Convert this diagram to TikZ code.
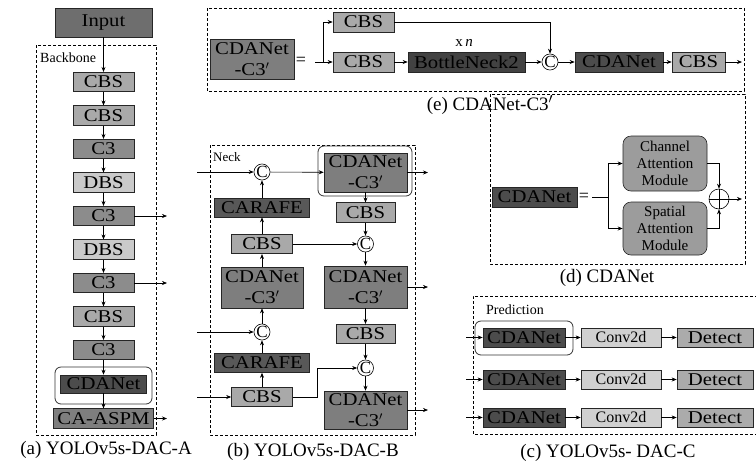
\documentclass[tikz,border=0pt]{standalone}
\usepackage{fontspec}
\setmainfont{Liberation Serif}
\newfontfamily\boxfont[FakeStretch=1.15]{Liberation Serif}
\usetikzlibrary{arrows.meta,calc}
\definecolor{cInput}{HTML}{6E6E6E}
\definecolor{cCBS}{HTML}{A9A9A9}
\definecolor{cCthree}{HTML}{8C8C8C}
\definecolor{cDBS}{HTML}{CACACA}
\definecolor{cDark}{HTML}{4C4C4C}
\definecolor{cCARAFE}{HTML}{585858}
\definecolor{cMid}{HTML}{7E7E7E}
\definecolor{cBN}{HTML}{424242}
\definecolor{cLight}{HTML}{D0D0D0}
\definecolor{cDetect}{HTML}{ABABAB}
\definecolor{cAtt}{HTML}{9C9C9C}
\begin{document}
\begin{tikzpicture}[x=1pt,y=-1pt,
  bx/.style={draw=black!85, line width=0.6pt, inner sep=0pt, align=center, text=black, font=\boxfont\fontsize{18}{21}\selectfont},
  inputbox/.style={bx, fill=cInput, minimum width=97pt, minimum height=29pt},
  cbsbox/.style={bx, fill=cCBS, minimum width=61pt, minimum height=19.5pt},
  cthreebox/.style={bx, fill=cCthree, minimum width=61pt, minimum height=19.5pt},
  dbsbox/.style={bx, fill=cDBS, minimum width=61pt, minimum height=19.5pt},
  darkbox/.style={bx, fill=cDark, minimum width=82pt, minimum height=19pt},
  midbox/.style={bx, fill=cMid},
  carafebox/.style={bx, fill=cCARAFE, minimum width=95pt, minimum height=19pt},
  cdcbox/.style={bx, fill=cMid, minimum width=83pt, minimum height=40pt},
  bnbox/.style={bx, fill=cBN, minimum width=117pt, minimum height=20pt},
  convbox/.style={bx, fill=cLight, minimum width=80pt, minimum height=19pt, font=\fontsize{16}{17}\selectfont},
  detbox/.style={bx, fill=cDetect, minimum width=76pt, minimum height=19pt},
  attbox/.style={draw=black!85, line width=0.6pt, fill=cAtt, rounded corners=8pt, inner sep=0pt, align=center, text=black, minimum width=84pt, minimum height=55pt, font=\fontsize{15}{17}\selectfont},
  arr/.style={-{Stealth[length=5pt,width=4pt]}, line width=0.6pt},
  ln/.style={line width=0.6pt},
  dbox/.style={dashed, dash pattern=on 3pt off 2pt, line width=0.6pt},
  hl/.style={draw=black!80, line width=0.8pt, rounded corners=6pt},
  cc/.style={circle, draw, fill=white, line width=0.6pt, minimum size=16pt, inner sep=0pt, font=\fontsize{17}{17}\selectfont},
  oplus/.style={circle, draw, fill=white, line width=0.6pt, minimum size=20pt, inner sep=0pt,
    path picture={\draw[line width=0.6pt] (path picture bounding box.north) -- (path picture bounding box.south) (path picture bounding box.west) -- (path picture bounding box.east);}},
  lab/.style={font=\fontsize{14}{14}\selectfont, anchor=west, inner sep=0pt},
  eqtxt/.style={font=\fontsize{18}{18}\selectfont, inner sep=0pt},
  captxt/.style={font=\fontsize{19}{19}\selectfont, inner sep=0pt}
]
\useasboundingbox (0,0) rectangle (756,467);

% ---------------- (a) Backbone ----------------
\draw[dbox] (36,45) rectangle (156,435);
\node[lab] (bbl) at (40,58) {Backbone};
\node[inputbox] (inp) at (103.5,22.5) {Input};
\node[cbsbox] (a1) at (103.5,82) {CBS};
\node[cbsbox] (a2) at (103.5,115.5) {CBS};
\node[cthreebox] (a3) at (103.5,149) {C3};
\node[dbsbox] (a4) at (103.5,182.5) {DBS};
\node[cthreebox] (a5) at (103.5,216) {C3};
\node[dbsbox] (a6) at (103.5,249.5) {DBS};
\node[cthreebox] (a7) at (103.5,283) {C3};
\node[cbsbox] (a8) at (103.5,316.5) {CBS};
\node[cthreebox] (a9) at (103.5,350) {C3};
\draw[hl] (55,367) rectangle (152,404);
\node[darkbox, minimum width=86pt, minimum height=18pt] (a10) at (103.5,384) {CDANet};
\node[midbox, minimum width=100pt, minimum height=19.5pt] (a11) at (103.5,418.5) {CA-ASPM};
\draw[arr] (inp) -- (a1);
\draw[arr] (a1) -- (a2);
\draw[arr] (a2) -- (a3);
\draw[arr] (a3) -- (a4);
\draw[arr] (a4) -- (a5);
\draw[arr] (a5) -- (a6);
\draw[arr] (a6) -- (a7);
\draw[arr] (a7) -- (a8);
\draw[arr] (a8) -- (a9);
\draw[arr] (a9) -- (a10);
\draw[arr] (a10) -- (a11);
\coordinate (ao1) at (167,216);
\coordinate (ao2) at (167,283);
\coordinate (ao3) at (167,418.5);
\draw[arr] (a5.east) -- (ao1);
\draw[arr] (a7.east) -- (ao2);
\draw[arr] (a11.east) -- (ao3);
\node[captxt] (capa) at (106,450) {(a) YOLOv5s-DAC-A};

% ---------------- (b) Neck ----------------
\draw[dbox] (210,145) rectangle (415,435);
\node[lab, font=\fontsize{13}{13}\selectfont] (neck) at (213,157) {Neck};
\node[cc] (bc1) at (262,172) {C};
\draw[hl] (318,146) rectangle (412,196);
\node[cdcbox, minimum height=39pt] (bR1) at (365.5,172.5) {CDANet\\-C3$'$};
\node[carafebox] (bL1) at (262,207.5) {CARAFE};
\node[cbsbox] (bL2) at (262,244) {CBS};
\node[cdcbox, minimum width=82pt, minimum height=41pt] (bL3) at (262,287.5) {CDANet\\-C3$'$};
\node[cc] (bc2) at (262,332) {C};
\node[carafebox] (bL4) at (262,363) {CARAFE};
\node[cbsbox] (bL5) at (262,397) {CBS};
\node[cbsbox, minimum width=59pt] (bR2) at (365.5,212.5) {CBS};
\node[cc] (bc3) at (365.5,244) {C};
\node[cdcbox, minimum height=42pt] (bR3) at (365.5,287) {CDANet\\-C3$'$};
\node[cbsbox, minimum width=59pt] (bR4) at (365.5,334) {CBS};
\node[cc] (bc4) at (365.5,368) {C};
\node[cdcbox, minimum height=38pt] (bR5) at (365.5,410) {CDANet\\-C3$'$};
\coordinate (bi1) at (197,172);
\coordinate (bi2) at (197,332);
\coordinate (bi3) at (197,397);
\coordinate (bo1) at (428,172.5);
\coordinate (bo2) at (428,287);
\coordinate (bo3) at (428,410);
\coordinate (bk) at (317,397);
\draw[arr] (bi1) -- (bc1);
\draw[arr] (bi2) -- (bc2);
\draw[arr] (bi3) -- (bL5);
\draw[arr] (bc1) -- (bR1);
\draw[arr] (bR1) -- (bo1);
\draw[arr] (bR3) -- (bo2);
\draw[arr] (bR5) -- (bo3);
\draw[arr] (bL1) -- (bc1);
\draw[arr] (bL2) -- (bL1);
\draw[arr] (bL3) -- (bL2);
\draw[arr] (bc2) -- (bL3);
\draw[arr] (bL4) -- (bc2);
\draw[arr] (bL5) -- (bL4);
\draw[arr] (bR1) -- (bR2);
\draw[arr] (bR2) -- (bc3);
\draw[arr] (bL2) -- (bc3);
\draw[arr] (bc3) -- (bR3);
\draw[arr] (bR3) -- (bR4);
\draw[arr] (bR4) -- (bc4);
\draw[arr] (bc4) -- (bR5);
\draw[arr] (bL5.east) -- (bk) |- (bc4.west);
\node[captxt] (capb) at (313,452) {(b) YOLOv5s-DAC-B};

% ---------------- (e) CDANet-C3' ----------------
\draw[dbox] (207,8) rectangle (744,91);
\node[cdcbox, minimum width=84pt, minimum height=40pt] (eA) at (252,59) {CDANet\\-C3$'$};
\node[eqtxt] (eq1) at (301,61) {=};
\coordinate (es0) at (315,62);
\coordinate (es) at (323,62);
\node[cbsbox, minimum height=20pt] (eT) at (363.5,22) {CBS};
\node[cbsbox, minimum height=20pt] (eB) at (363.5,62) {CBS};
\node[bnbox] (eN) at (466.5,62) {BottleNeck2};
\node[font=\fontsize{15}{15}\selectfont, inner sep=0pt] (exn) at (464,43) {x\,\textit{n}};
\node[cc] (ec) at (550,62) {C};
\node[darkbox, minimum width=88pt, minimum height=20pt] (eD) at (619,62) {CDANet};
\node[cbsbox, minimum width=53pt, minimum height=20pt] (eC) at (698.5,62) {CBS};
\coordinate (eo) at (742,62);
\draw[ln] (es0) -- (es);
\draw[arr] (es) |- (eT.west);
\draw[arr] (es) -- (eB.west);
\draw[arr] (eB) -- (eN);
\draw[arr] (eN) -- (ec);
\draw[arr] (ec) -- (eD);
\draw[arr] (eD) -- (eC);
\draw[arr] (eC) -- (eo);
\draw[arr] (eT.east) -| (ec.north);
\node[captxt] (cape) at (490,105) {(e) CDANet-C3$'$};

% ---------------- (d) CDANet ----------------
\draw[dbox] (490,94) rectangle (745,264);
\node[darkbox, minimum width=85pt, minimum height=20pt] (dA) at (534.5,197) {CDANet};
\node[eqtxt] (eq2) at (584,197) {=};
\coordinate (ds0) at (592,197);
\coordinate (ds) at (608,197);
\node[attbox] (dCh) at (665,163.5) {Channel\\Attention\\Module};
\node[attbox, minimum height=53pt] (dSp) at (665,228.5) {Spatial\\Attention\\Module};
\node[oplus] (dP) at (719,199) {};
\coordinate (do) at (742,199);
\draw[ln] (ds0) -- (ds);
\draw[arr] (ds) |- (dCh.west);
\draw[arr] (ds) |- (dSp.west);
\draw[arr] (dCh.east) -| (dP.north);
\draw[arr] (dSp.east) -| (dP.south);
\draw[arr] (dP) -- (do);
\node[captxt] (capd) at (607,278) {(d) CDANet};

% ---------------- (c) Prediction ----------------
\draw[dbox] (758,296) -- (473,296) -- (473,434) -- (758,434);
\node[lab] (pred) at (486,310) {Prediction};
\draw[hl] (475,321) rectangle (573,355);
\node[darkbox] (c1) at (524,337.5) {CDANet};
\node[darkbox] (c2) at (524,379.5) {CDANet};
\node[darkbox] (c3) at (524,417.5) {CDANet};
\node[convbox] (v1) at (621,337.5) {Conv2d};
\node[convbox] (v2) at (621,379.5) {Conv2d};
\node[convbox] (v3) at (621,417.5) {Conv2d};
\node[detbox] (t1) at (715,337.5) {Detect};
\node[detbox] (t2) at (715,379.5) {Detect};
\node[detbox] (t3) at (715,417.5) {Detect};
\coordinate (ci1) at (466,337.5);
\coordinate (ci2) at (466,379.5);
\coordinate (ci3) at (466,417.5);
\draw[arr] (ci1) -- (c1);
\draw[arr] (ci2) -- (c2);
\draw[arr] (ci3) -- (c3);
\draw[arr] (c1) -- (v1);
\draw[arr] (c2) -- (v2);
\draw[arr] (c3) -- (v3);
\draw[arr] (v1) -- (t1);
\draw[arr] (v2) -- (t2);
\draw[arr] (v3) -- (t3);
\node[captxt] (capc) at (608,453) {(c) YOLOv5s- DAC-C};
\end{tikzpicture}
\end{document}
